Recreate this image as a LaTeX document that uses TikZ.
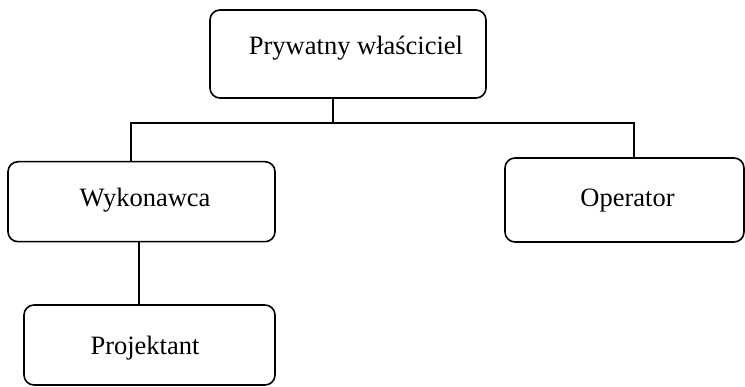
\documentclass[tikz,border=0pt]{standalone}
\usepackage{fontspec}
\setmainfont{Liberation Serif}
\begin{document}
\begin{tikzpicture}[x=1pt,y=-1pt,
  box/.style={draw, line width=1.6pt, rounded corners=10pt, rectangle, inner sep=0pt},
  lbl/.style={anchor=base, inner sep=0pt, font=\fontsize{26.5}{30}\selectfont},
  conn/.style={line width=1.6pt}]
\useasboundingbox (0,0) rectangle (745,387);
% boxes
\node[box, minimum width=276pt, minimum height=88pt] (top) at (348,54) {};
\node[box, minimum width=267pt, minimum height=80pt] (wyk) at (141.5,201.7) {};
\node[box, minimum width=239pt, minimum height=84pt] (op) at (624.5,200) {};
\node[box, minimum width=251pt, minimum height=80pt] (proj) at (149.5,345) {};
% labels
\node[lbl] (ltop) at (356,55) {Prywatny właściciel};
\node[lbl] (lwyk) at (145,206.5) {Wykonawca};
\node[lbl] (lop) at (627.5,206.5) {Operator};
\node[lbl] (lproj) at (145,355) {Projektant};
% connectors
\coordinate (jt) at (333,123);
\coordinate (jl) at (131,123);
\coordinate (jr) at (634,123);
\coordinate (jw) at (139,0);
\draw[conn] (top.south -| jt) -- (jt);
\draw[conn] ([xshift=-0.8pt]jl) -- ([xshift=0.8pt]jr);
\draw[conn] (jl) -- (wyk.north -| jl);
\draw[conn] (jr) -- (op.north -| jr);
\draw[conn] (wyk.south -| jw) -- (proj.north -| jw);
\end{tikzpicture}
\end{document}
